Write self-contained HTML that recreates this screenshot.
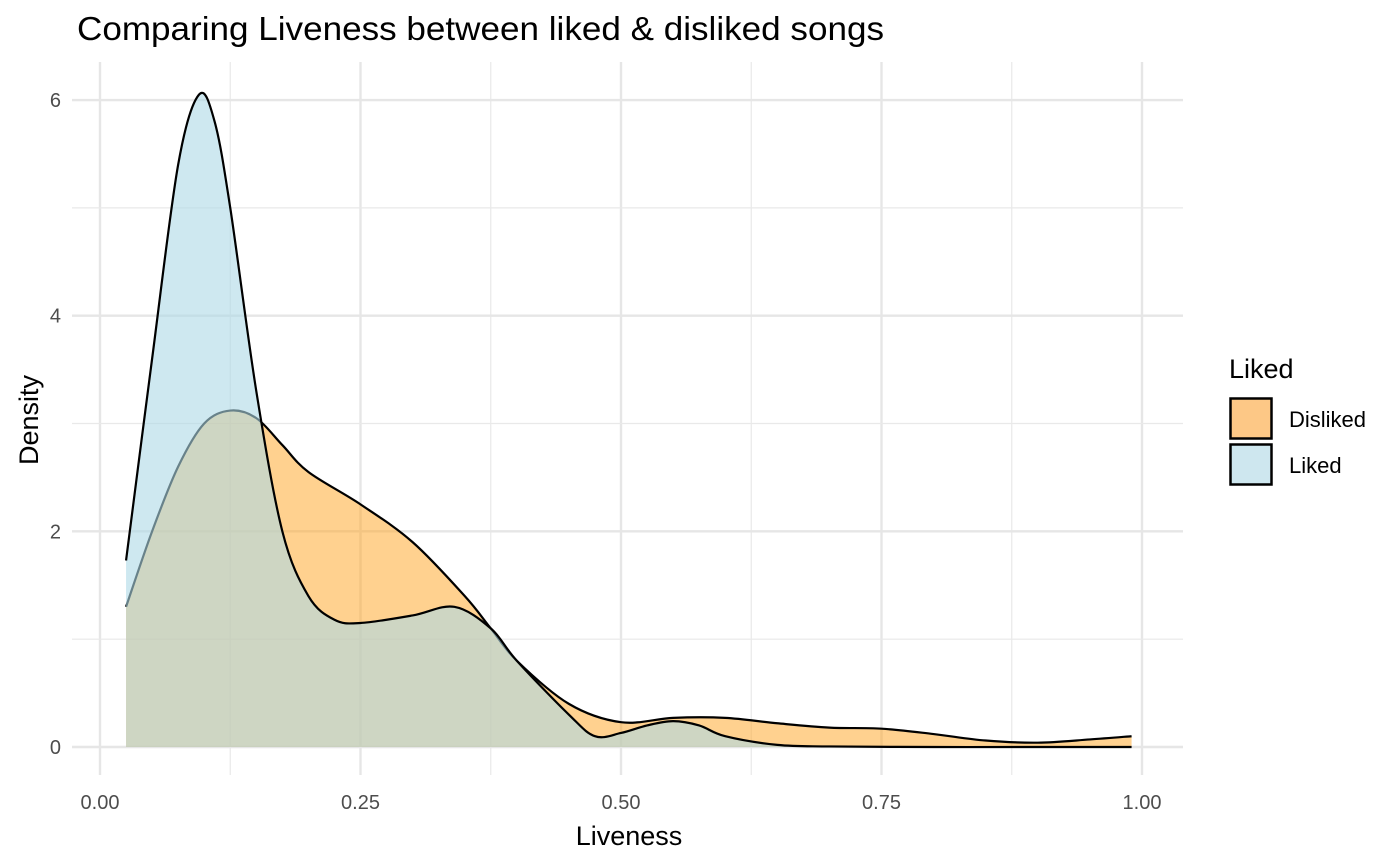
<!DOCTYPE html>
<html><head><meta charset="utf-8"><style>
html,body{margin:0;padding:0;background:#fff;}
svg{display:block;font-family:"Liberation Sans",Arial,sans-serif;}
</style></head><body>
<svg id="chart" width="1400" height="865" viewBox="0 0 1400 865">
<text x="77" y="40" font-size="33" fill="#000" textLength="807" lengthAdjust="spacingAndGlyphs">Comparing Liveness between liked &amp; disliked songs</text>
<g id="grid"></g>
<g id="areas"></g>
<g id="axes"></g>
<text x="629" y="845" font-size="27" text-anchor="middle">Liveness</text>
<text transform="translate(38,420) rotate(-90)" font-size="27" text-anchor="middle">Density</text>
<g>
<text x="1229" y="378" font-size="27">Liked</text>
<rect x="1230.5" y="398.5" width="41" height="40" fill="#FDC886" stroke="#000" stroke-width="2.5"/>
<text x="1289" y="427" font-size="22">Disliked</text>
<rect x="1230.5" y="444.5" width="41" height="40" fill="#CEE7EF" stroke="#000" stroke-width="2.5"/>
<text x="1289" y="473" font-size="22">Liked</text>
</g>
</svg>
<script>
const xTicks=[0,0.25,0.5,0.75,1.0];
const xTickLabels=["0.00","0.25","0.50","0.75","1.00"];
const yTicks=[0,2,4,6];
const yTickLabels=["0","2","4","6"];
const dislikedX=[0.025,0.05,0.075,0.1,0.125,0.15,0.175,0.2,0.25,0.3,0.35,0.375,0.4,0.45,0.5,0.55,0.6,0.65,0.7,0.75,0.8,0.85,0.9,0.95,0.99];
const dislikedY=[1.3,2.0,2.6,3.0,3.12,3.05,2.8,2.55,2.25,1.9,1.4,1.1,0.8,0.4,0.23,0.27,0.27,0.22,0.18,0.17,0.12,0.06,0.04,0.07,0.1];
const likedX=[0.025,0.05,0.075,0.095,0.11,0.125,0.15,0.175,0.2,0.225,0.25,0.3,0.34,0.375,0.4,0.45,0.475,0.5,0.525,0.55,0.575,0.6,0.65,0.7,0.8,0.9,0.99];
const likedY=[1.73,3.6,5.4,6.05,5.8,5.0,3.3,2.0,1.4,1.18,1.15,1.22,1.3,1.1,0.8,0.3,0.1,0.13,0.2,0.24,0.2,0.1,0.02,0.005,0,0,0];
const NS="http://www.w3.org/2000/svg";
const sx=v=>100+v*1042;
const sy=v=>747-v*107.83;
const L=72,R=1183,T=62,B=775;
function mk(tag,attrs,parent){const e=document.createElementNS(NS,tag);for(const k in attrs)e.setAttribute(k,attrs[k]);parent.appendChild(e);return e;}
const grid=document.getElementById('grid');
for(let i=0;i<xTicks.length;i++){
  const l=mk('line',{x1:sx(xTicks[i]),x2:sx(xTicks[i]),y1:T,y2:B,stroke:'#E6E6E6','stroke-width':2.4},grid);
  
  
  if(i<xTicks.length-1){const m=(xTicks[i]+xTicks[i+1])/2;
    const ml=mk('line',{x1:sx(m),x2:sx(m),y1:T,y2:B,stroke:'#E9E9E9','stroke-width':1.2},grid);
    
    }
}
for(let i=0;i<yTicks.length;i++){
  const l=mk('line',{x1:L,x2:R,y1:sy(yTicks[i]),y2:sy(yTicks[i]),stroke:'#E6E6E6','stroke-width':2.4},grid);
  
  
  if(i<yTicks.length-1){const m=(yTicks[i]+yTicks[i+1])/2;
    const ml=mk('line',{x1:L,x2:R,y1:sy(m),y2:sy(m),stroke:'#E9E9E9','stroke-width':1.2},grid);
    
    }
}
function curve(xs,ys){
  const p=xs.map((x,i)=>[sx(x),sy(ys[i])]);
  let d=`M${p[0][0]},${p[0][1]}`;
  for(let i=0;i<p.length-1;i++){
    const p0=p[Math.max(0,i-1)],p1=p[i],p2=p[i+1],p3=p[Math.min(p.length-1,i+2)];
    const c1=[p1[0]+(p2[0]-p0[0])/6,p1[1]+(p2[1]-p0[1])/6];
    const c2=[p2[0]-(p3[0]-p1[0])/6,p2[1]-(p3[1]-p1[1])/6];
    d+=` C${c1[0]},${c1[1]} ${c2[0]},${c2[1]} ${p2[0]},${p2[1]}`;
  }
  return d;
}
const areas=document.getElementById('areas');
function series(xs,ys,fill,op,name){
  const c=curve(xs,ys);
  const a=mk('path',{d:c+` L${sx(xs[xs.length-1])},${sy(0)} L${sx(xs[0])},${sy(0)} Z`,fill:fill,'fill-opacity':op,stroke:'none'},areas);
  
  
  const ln=mk('path',{d:c,fill:'none',stroke:'#000','stroke-width':2.2},areas);
  
  
}
series(dislikedX,dislikedY,'#FFA31F',0.5,'disliked');
series(likedX,likedY,'#ADD8E6',0.6,'liked');
const axes=document.getElementById('axes');
xTicks.forEach((v,i)=>{const t=mk('text',{x:sx(v),y:809,'font-size':20,'text-anchor':'middle',fill:'#4D4D4D'},axes);t.textContent=xTickLabels[i];
  
  });
yTicks.forEach((v,i)=>{const t=mk('text',{x:61,y:sy(v)+7,'font-size':20,'text-anchor':'end',fill:'#4D4D4D'},axes);t.textContent=yTickLabels[i];
  
  });
</script>
</body></html>
